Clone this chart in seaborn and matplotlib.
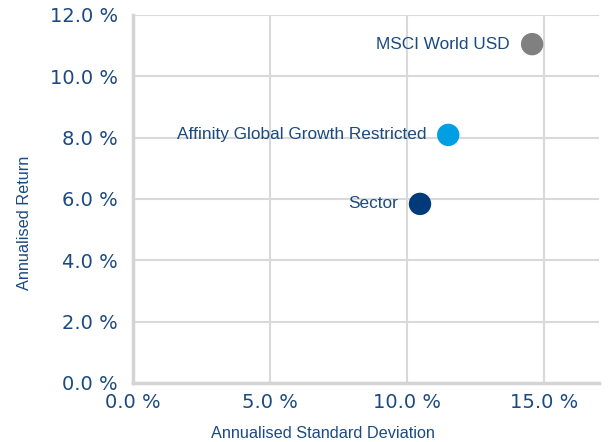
import seaborn as sns
import pandas as pd
from matplotlib import pyplot as plt
from matplotlib.ticker import FuncFormatter

names = ["MSCI World USD", "Affinity Global Growth Restricted", "Sector"]
std_dev = [14.56, 11.5, 10.47]
returns = [11.05, 8.09, 5.84]
colours = ["#808080", "#009fe3", "#003a78"]

df = pd.DataFrame({"name": names, "std": std_dev, "ret": returns})

sns.set_style("white")
text_blue = "#1a4a80"

fig = plt.figure(figsize=(6.13, 4.42), dpi=100)
ax = fig.add_axes([133 / 613, 1 - 383 / 442, 466 / 613, 368 / 442])

sns.scatterplot(data=df, x="std", y="ret", hue="name", palette=colours,
                s=260, edgecolor="none", legend=False, ax=ax, zorder=3)

for name, x, y in zip(names, std_dev, returns):
    ax.annotate(name, (x, y), xytext=(-16, 0), textcoords="offset points",
                ha="right", va="center", fontsize=12.4, color=text_blue,
                family="Liberation Sans", zorder=4)

ax.set_xlim(0, 17)
ax.set_ylim(0, 12)
ax.set_xticks([0, 5, 10, 15])
ax.set_yticks([0, 2, 4, 6, 8, 10, 12])
pct = FuncFormatter(lambda v, p: f"{v:.1f} %")
ax.xaxis.set_major_formatter(pct)
ax.yaxis.set_major_formatter(pct)
ax.tick_params(axis="both", labelsize=14, colors=text_blue, length=0)
ax.tick_params(axis="x", pad=7)
ax.tick_params(axis="y", pad=11)
ax.set_xlabel("")
ax.set_ylabel("")

ax.grid(True, color="#d9d9d9", linewidth=1.5, zorder=0)
ax.set_axisbelow(True)
for side in ["top", "right"]:
    ax.spines[side].set_visible(False)
for side in ["left", "bottom"]:
    ax.spines[side].set_color("#d4d4d4")
    ax.spines[side].set_linewidth(2.5)

# axis titles sit off-centre in the original, so place them on the figure
fig.text(323 / 613, 1 - 433 / 442, "Annualised Standard Deviation",
         fontsize=11.7, color=text_blue, family="Liberation Sans",
         ha="center", va="center")
fig.text(25 / 613, 1 - 223 / 442, "Annualised Return", rotation=90,
         fontsize=11.7, color=text_blue, family="Liberation Sans",
         ha="center", va="center")

fig.savefig("out.png", dpi=100)
